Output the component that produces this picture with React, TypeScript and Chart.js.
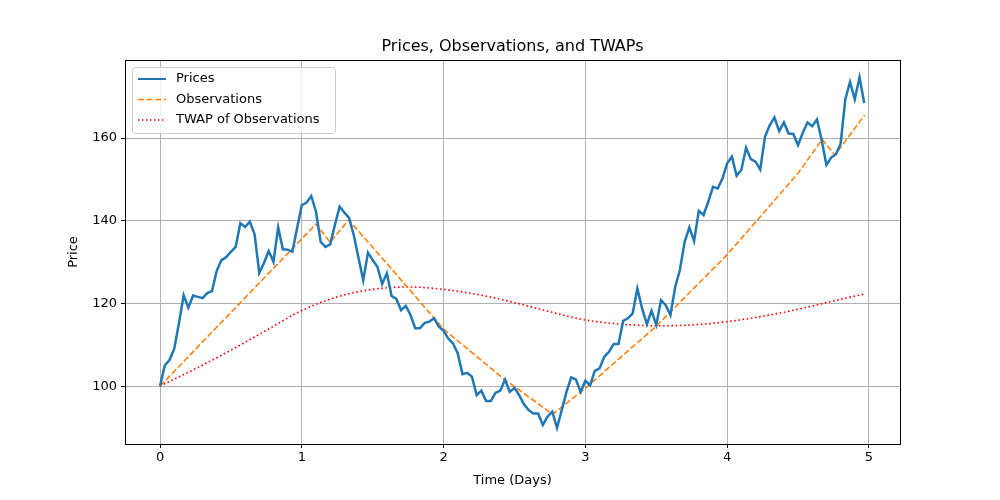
import React, { useEffect, useRef } from "react";
import { Chart, registerables } from "chart.js";
Chart.register(...registerables);

const priceStep = 1 / 30;
const prices = [
  100, 105, 106.3, 109, 115.2, 122, 119, 121.9, 121.6, 121.3,
  122.5, 123, 127.9, 130.5, 131.2, 132.5, 133.7, 139.4, 138.5, 139.8,
  136.8, 127.4, 129.8, 132.7, 130.1, 138.4, 133.1, 133, 132.5, 138.2,
  143.8, 144.4, 146, 142.2, 134.9, 133.7, 134.3, 139, 143.4, 142,
  140.7, 136.5, 131, 125.6, 132.3, 130.5, 128.9, 124.7, 127.3, 121.8,
  121.1, 118.4, 119.4, 117.2, 114, 114, 115.3, 115.6, 116.4, 114.4,
  113.4, 111.5, 110.3, 107.9, 102.9, 103.2, 102.3, 97.8, 98.9, 96.4,
  96.4, 98.4, 98.9, 101.6, 98.6, 99.6, 97.8, 95.6, 94.2, 93.4,
  93.4, 90.6, 92.6, 93.8, 89.9, 94.2, 98.6, 102.1, 101.6, 98.6,
  101.3, 100.2, 103.7, 104.3, 107.1, 108.3, 110.2, 110.2, 115.8, 116.4,
  117.6, 123.6, 118.8, 115, 118.2, 114.8, 120.8, 119.6, 117.2, 124,
  128.1, 134.9, 138.4, 135.1, 142.4, 141.4, 144.6, 148.2, 147.8, 150.2,
  153.9, 155.5, 150.9, 152.3, 157.7, 154.9, 154.3, 152.4, 160.3, 163.1,
  165, 161.7, 163.8, 161.1, 161, 158.3, 161.3, 163.8, 162.9, 164.5,
  159.5, 153.5, 155.3, 156.1, 158.6, 169.4, 173.6, 169.4, 174.7, 168.5,
];
const obsTimes = [0, 1.1, 1.2, 1.33, 1.62, 2.0, 2.43, 2.77, 3.0, 3.5, 4.0, 4.5, 4.67, 4.76, 4.97];
const obsValues = [100, 139.2, 134.8, 140.2, 128.9, 113.8, 101.6, 93.2, 99.5, 114.5, 131.8, 151.5, 159.7, 155.9, 165.6];
const twapTimes = [0, 0.25, 0.5, 0.75, 1.0, 1.25, 1.5, 1.75, 2.0, 2.25, 2.5, 2.75, 3.0, 3.25, 3.5, 3.75, 4.0, 4.25, 4.5, 4.75, 4.97];
const twapValues = [100, 104.2, 108.7, 113.5, 118.3, 121.6, 123.4, 124, 123.4, 122.1, 120.2, 118, 116, 115, 114.6, 114.8, 115.6, 116.9, 118.6, 120.6, 122.3];
const xTicks = [0, 1, 2, 3, 4, 5];
const yTicks = [100, 120, 140, 160];
const titleText = "Prices, Observations, and TWAPs";

const legendItems = [
  { label: "Prices", color: "#1f77b4", width: 2, dash: [] as number[] },
  { label: "Observations", color: "#ff7f0e", width: 1.5, dash: [6, 2.6] },
  { label: "TWAP of Observations", color: "#ff0000", width: 1.5, dash: [1.5, 2.5] },
];

const framePlugin = {
  id: "frame",
  afterDraw(chart: any) {
    const { ctx, chartArea: a } = chart;
    ctx.save();
    ctx.strokeStyle = "#000";
    ctx.lineWidth = 1;
    ctx.strokeRect(a.left + 0.5, a.top + 0.5, a.right - a.left, a.bottom - a.top);
    // title
    ctx.fillStyle = "#000";
    ctx.font = "16px 'DejaVu Sans'";
    ctx.textAlign = "center";
    ctx.textBaseline = "middle";
    ctx.fillText(titleText, (a.left + a.right) / 2, 47);
    ctx.textAlign = "left";
    // legend
    const x0 = a.left + 7, y0 = a.top + 7, w = 203, h = 66;
    ctx.fillStyle = "rgba(255,255,255,0.8)";
    ctx.strokeStyle = "#cccccc";
    ctx.beginPath();
    ctx.roundRect(x0 + 0.5, y0 + 0.5, w, h, 3);
    ctx.fill();
    ctx.stroke();
    ctx.font = "13px 'DejaVu Sans'";
    legendItems.forEach((it, i) => {
      const cy = y0 + 12 + i * 20.5;
      ctx.strokeStyle = it.color;
      ctx.lineWidth = it.width;
      ctx.setLineDash(it.dash);
      ctx.beginPath();
      ctx.moveTo(x0 + 6, cy);
      ctx.lineTo(x0 + 34, cy);
      ctx.stroke();
      ctx.setLineDash([]);
      ctx.fillStyle = "#000";
      ctx.fillText(it.label, x0 + 44, cy);
    });
    ctx.restore();
  },
};

export default function App() {
  const ref = useRef<HTMLCanvasElement>(null);
  useEffect(() => {
    document.body.style.margin = "0";
    const font = { family: "'DejaVu Sans'", size: 13 };
    const chart = new Chart(ref.current!, {
      type: "line",
      data: {
        datasets: [
          {
            label: "Prices",
            data: prices.map((v, i) => ({ x: i * priceStep, y: v })),
            borderColor: "#1f77b4",
            borderWidth: 2.5,
            pointRadius: 0,
          },
          {
            label: "Observations",
            data: obsValues.map((v, i) => ({ x: obsTimes[i], y: v })),
            borderColor: "#ff7f0e",
            borderWidth: 1.6,
            borderDash: [6, 2.6],
            pointRadius: 0,
          },
          {
            label: "TWAP of Observations",
            data: twapValues.map((v, i) => ({ x: twapTimes[i], y: v })),
            borderColor: "#ff0000",
            borderWidth: 1.6,
            borderDash: [1.6, 2.6],
            pointRadius: 0,
            cubicInterpolationMode: "monotone",
          },
        ],
      },
      options: {
        animation: false,
        responsive: false,
        layout: { padding: { left: 62, right: 100, top: 60, bottom: 0 } },
        plugins: {
          legend: { display: false },
          tooltip: { enabled: false },
          title: { display: false },
        },
        scales: {
          x: {
            type: "linear",
            min: -0.247,
            max: 5.219,
            afterBuildTicks: (s: any) => { s.ticks = xTicks.map((v) => ({ value: v })); },
            afterFit: (s: any) => { s.height = 56; },
            ticks: { color: "#000", font, padding: 2, callback: (v: any) => String(v) },
            grid: { color: "#b0b0b0", tickLength: 4, tickColor: "#000" },
            border: { color: "#000" },
            title: { display: true, text: "Time (Days)", color: "#000", font, padding: { top: 3, bottom: 12 } },
          },
          y: {
            min: 86,
            max: 178.9,
            afterBuildTicks: (s: any) => { s.ticks = yTicks.map((v) => ({ value: v })); },
            afterFit: (s: any) => { s.width = 63; },
            ticks: { color: "#000", font, padding: 4, callback: (v: any) => String(v) },
            grid: { color: "#b0b0b0", tickLength: 4, tickColor: "#000" },
            border: { color: "#000" },
            title: { display: true, text: "Price", color: "#000", font, padding: { top: 4, bottom: 6 } },
          },
        },
      } as any,
      plugins: [framePlugin],
    });
    return () => chart.destroy();
  }, []);
  return <canvas ref={ref} width={1000} height={500} style={{ display: "block" }} />;
}
